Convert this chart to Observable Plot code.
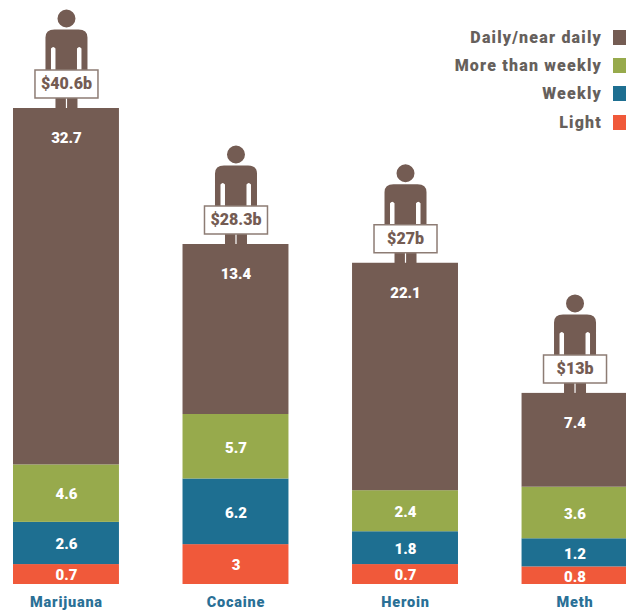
<!DOCTYPE html>
<html>
<head>
<meta charset="utf-8">
<script src="https://cdn.jsdelivr.net/npm/d3@7"></script>
<script src="https://cdn.jsdelivr.net/npm/@observablehq/plot@0.6"></script>
<style>
  html, body { margin: 0; padding: 0; background: #fff; overflow: hidden; }
  #chart { position: relative; width: 626px; height: 611px; overflow: hidden;
           font-family: Roboto, sans-serif; }
  #chart svg { display: block; }
  [aria-label="x-axis tick label"] text { letter-spacing: 0.8px; }
  #legend { position: absolute; top: 23px; right: 0; width: 200px; }
  .row { display: flex; justify-content: flex-end; align-items: center; height: 28.4px; }
  .row span { font-size: 16px; font-weight: 900; color: #66605c; letter-spacing: 1.2px; margin-right: 11px; }
  .row i { display: block; width: 13px; height: 15px; }
</style>
</head>
<body>
<div id="chart"><div id="legend"></div></div>
<script>
const drugs = ["Marijuana", "Cocaine", "Heroin", "Meth"];
const totals = ["$40.6b", "$28.3b", "$27b", "$13b"];
const frequencies = ["Light", "Weekly", "More than weekly", "Daily/near daily"];
const colors = ["#f0593a", "#1e6f91", "#97aa4c", "#745c53"];

// Printed figures, per drug, ordered Light → Daily/near daily.
const lightValues  = [0.7, 3, 0.7, 0.8];
const weeklyValues = [2.6, 6.2, 1.8, 1.2];
const moreValues   = [4.6, 5.7, 2.4, 3.6];
const dailyValues  = [32.7, 13.4, 22.1, 7.4];

// The original graphic is not drawn to scale, so segment lengths as they
// appear in the picture are read separately from the printed figures.
const lightDrawn  = [1.7, 3.4, 1.7, 1.5];
const weeklyDrawn = [3.6, 5.6, 2.8, 2.4];
const moreDrawn   = [4.9, 5.5, 3.5, 4.4];
const dailyDrawn  = [30.4, 14.5, 19.4, 8.0];

const valueSets = [lightValues, weeklyValues, moreValues, dailyValues];
const drawnSets = [lightDrawn, weeklyDrawn, moreDrawn, dailyDrawn];
const rows = frequencies.flatMap((f, i) => drugs.map((d, j) => ({
  drug: d, frequency: f, value: valueSets[i][j], drawn: drawnSets[i][j]
})));
const tops = drugs.map((d, j) => ({
  drug: d, label: totals[j], daily: dailyValues[j],
  top: d3.sum(drawnSets, s => s[j])
}));

// Pictogram symbols, anchored on the top centre of each bar.
const personSymbol = {
  draw(c) {
    c.moveTo(9, -90); c.arc(0, -90, 9, 0, 2 * Math.PI); c.closePath();
    c.moveTo(-21, -36); c.lineTo(-21, -71);
    c.quadraticCurveTo(-21, -79, -12, -79); c.lineTo(12, -79);
    c.quadraticCurveTo(21, -79, 21, -71); c.lineTo(21, -36);
    c.lineTo(11, -36); c.lineTo(11, 0); c.lineTo(-11, 0); c.lineTo(-11, -36);
    c.closePath();
    // slits wound the other way so they cut through the body
    for (const [a, b] of [[-15.5, -11], [10.5, 15]]) {
      c.moveTo(a, -60); c.lineTo(a, -36); c.lineTo(b, -36); c.lineTo(b, -60);
      c.quadraticCurveTo((a + b) / 2, -63, a, -60); c.closePath();
    }
    c.moveTo(-0.6, -12); c.lineTo(-0.6, 0); c.lineTo(0.6, 0); c.lineTo(0.6, -12); c.closePath();
  }
};
const boxSymbol = {
  draw(c) {
    c.moveTo(-31.5, -38.5); c.lineTo(31.5, -38.5); c.lineTo(31.5, -10.5); c.lineTo(-31.5, -10.5); c.closePath();
  }
};

const font = "Roboto";
const plot = Plot.plot({
  width: 626, height: 611,
  marginTop: 0, marginRight: 0, marginLeft: 0, marginBottom: 27,
  style: { background: "#fff", fontFamily: font },
  x: { domain: drugs, range: [13, 627.5], paddingInner: 0.375, paddingOuter: 0, round: false, axis: null, label: null },
  y: { domain: [0, 40.6], range: [584, 108], axis: null, label: null },
  color: { domain: frequencies, range: colors },
  marks: [
    Plot.barY(rows, { x: "drug", y: "drawn", fill: "frequency", order: frequencies }),
    Plot.text(rows.filter(d => d.frequency !== "Daily/near daily"), Plot.stackY({
      x: "drug", y: "drawn", z: "frequency", order: frequencies, text: d => String(d.value),
      fill: "#fff", fontSize: 15, fontWeight: 900, dy: 1
    })),
    Plot.text(tops, { x: "drug", y: "top", text: d => String(d.daily), fill: "#fff", fontSize: 15, fontWeight: 900, dy: 30 }),
    Plot.dot(tops, { x: "drug", y: "top", symbol: personSymbol, fill: "#745c53", stroke: "none" }),
    Plot.dot(tops, { x: "drug", y: "top", symbol: boxSymbol, fill: "#fff", stroke: "#8d7c74", strokeWidth: 1.5 }),
    Plot.text(tops, { x: "drug", y: "top", text: "label", fill: "#745c53", fontSize: 16, fontWeight: 900, dy: -24.5 }),
    Plot.axisX({ anchor: "bottom", tickSize: 0, tickPadding: 12, fontSize: 14.5, fontWeight: 900, fill: "#2a7096", label: null, fontFamily: font })
  ]
});
const chart = document.getElementById("chart");
chart.prepend(plot);

const legend = document.getElementById("legend");
[...frequencies].reverse().forEach(f => {
  const row = document.createElement("div");
  row.className = "row";
  const t = document.createElement("span");
  t.textContent = f;
  const s = document.createElement("i");
  s.style.background = colors[frequencies.indexOf(f)];
  row.append(t, s);
  legend.append(row);
});
</script>
</body>
</html>
